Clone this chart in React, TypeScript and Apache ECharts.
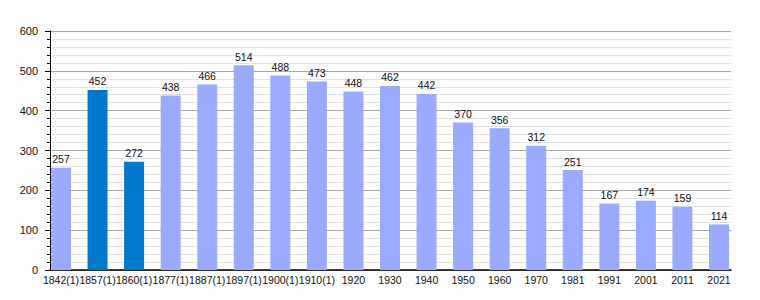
import React, { useEffect, useRef } from "react";
import * as echarts from "echarts";

const categories = [
  "1842(1)", "1857(1)", "1860(1)", "1877(1)", "1887(1)", "1897(1)", "1900(1)", "1910(1)",
  "1920", "1930", "1940", "1950", "1960", "1970", "1981", "1991", "2001", "2011", "2021",
];
const population = [257, 452, 272, 438, 466, 514, 488, 473, 448, 462, 442, 370, 356, 312, 251, 167, 174, 159, 114];
const highlighted = ["1857(1)", "1860(1)"];
const yTicks = { min: 0, max: 600, interval: 100 };

const LIGHT = "#9aabff";
const DARK = "#0079cc";
const FONT = "Liberation Sans, Arial, sans-serif";

export default function App() {
  const ref = useRef<HTMLDivElement>(null);
  useEffect(() => {
    if (!ref.current) return;
    const chart = echarts.init(ref.current, undefined, { renderer: "svg" });
    chart.setOption({
      animation: false,
      backgroundColor: "#fff",
      textStyle: { fontFamily: FONT },
      grid: [
        { left: 50, right: 29, top: 31, bottom: 30 },
        { left: 42.7, right: 22.7, top: 31, bottom: 30 },
      ],
      xAxis: [
        {
          gridIndex: 0,
          type: "value",
          min: 0,
          max: 1,
          axisLine: { show: true, lineStyle: { color: "#000", width: 1.5 } },
          axisTick: { show: false },
          axisLabel: { show: false },
          splitLine: { show: false },
        },
        {
          gridIndex: 1,
          type: "category",
          data: categories,
          boundaryGap: true,
          axisLine: { show: false },
          axisTick: { show: false },
          axisLabel: { interval: 0, fontSize: 10.5, color: "#111", margin: 4, fontFamily: FONT },
        },
      ],
      yAxis: [
        {
          gridIndex: 0,
          type: "value",
          min: yTicks.min,
          max: yTicks.max,
          interval: yTicks.interval,
          axisLine: { show: true, lineStyle: { color: "#000", width: 1 } },
          axisTick: { show: true, length: 5, lineStyle: { color: "#000" } },
          minorTick: { show: true, splitNumber: 5, length: 3, lineStyle: { color: "#000" } },
          axisLabel: { fontSize: 11, color: "#111", margin: 12, fontFamily: FONT },
          splitLine: { show: true, lineStyle: { color: "#a8a8a8", width: 1 } },
          minorSplitLine: { show: true, lineStyle: { color: "#e2e2e2", width: 1 } },
        },
        {
          gridIndex: 1,
          type: "value",
          min: yTicks.min,
          max: yTicks.max,
          interval: yTicks.interval,
          show: false,
          splitLine: { show: false },
        },
      ],
      series: [
        {
          type: "bar",
          xAxisIndex: 1,
          yAxisIndex: 1,
          barWidth: 20,
          data: population.map((v, i) => ({
            value: v,
            itemStyle: { color: highlighted.includes(categories[i]) ? DARK : LIGHT },
          })),
          label: { show: true, position: "top", distance: 3, fontSize: 10.5, color: "#111", fontFamily: FONT },
        },
      ],
    });
    return () => chart.dispose();
  }, []);
  return <div ref={ref} style={{ position: "fixed", left: 0, top: 0, width: 760, height: 300 }} />;
}
